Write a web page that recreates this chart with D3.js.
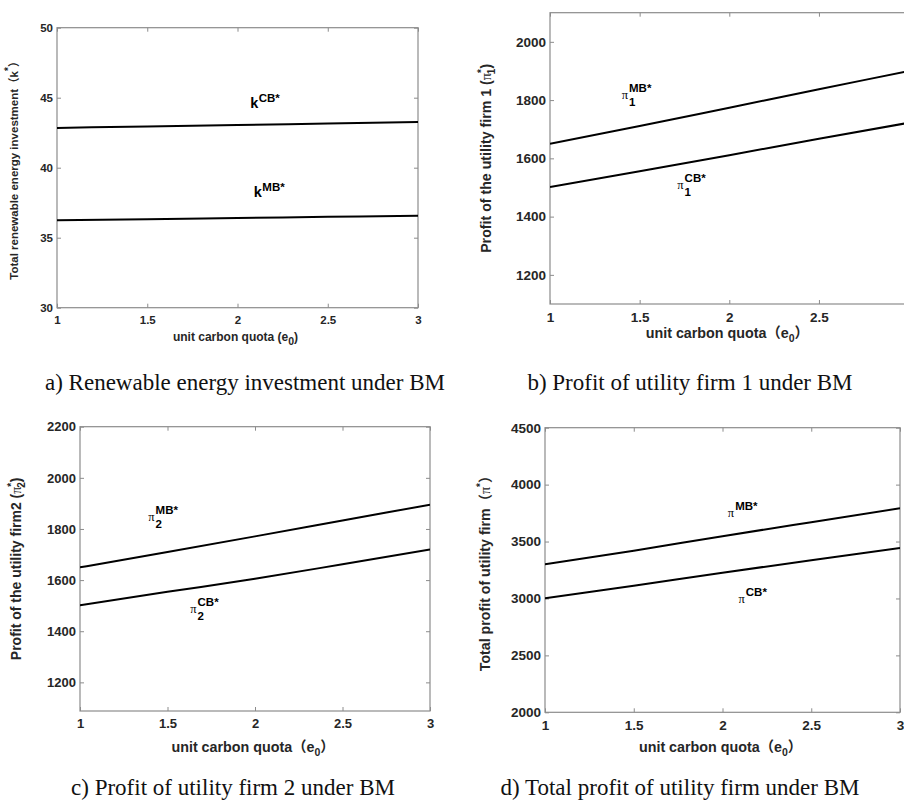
<!DOCTYPE html>
<html>
<head>
<meta charset="utf-8">
<script src="https://cdn.jsdelivr.net/npm/d3@7"></script>
<style>
  body { margin: 0; background: #fff; }
  svg { display: block; }
</style>
</head>
<body>
<div id="chart"></div>
<script>
// unit carbon quota e0
const quota = [1, 1.5, 2, 2.5, 3];

// a) renewable energy investment
const kCB = [42.84, 42.95, 43.05, 43.16, 43.27];
const kMB = [36.24, 36.32, 36.40, 36.49, 36.57];

// b) profit of utility firm 1
const pi1MB = [1650, 1711, 1774, 1837, 1900];
const pi1CB = [1502, 1556, 1611, 1667, 1722];

// c) profit of utility firm 2
const pi2MB = [1650, 1710, 1771, 1833, 1895];
const pi2CB = [1502, 1554, 1605, 1662, 1720];

// d) total profit
const piMB = [3300, 3420, 3547, 3670, 3792];
const piCB = [3001, 3112, 3226, 3336, 3443];

const xTicks = [1, 1.5, 2, 2.5, 3];

const width = 904, height = 800;
const sans = "'Liberation Sans', Arial, 'Noto Sans CJK SC', sans-serif";
const serif = "'Liberation Serif', 'Times New Roman', serif";

const svg = d3.select("#chart")
  .append("svg")
  .attr("width", width)
  .attr("height", height)
  .attr("viewBox", [0, 0, width, height]);

const panels = [
  {
    box: {left: 57, top: 27.7, right: 418, bottom: 307.7},
    yDomain: [30, 50], yTicks: [30, 35, 40, 45, 50],
    series: [kCB, kMB], fs: 11.5,
    yLabel: ["Total renewable energy investment（k", "*", "", "）"], yLabelX: 18, yLabelFs: 11.5,
    xLabel: ["unit carbon quota (e", "0", ")"], xLabelY: 341, xLabelFs: 12,
    caption: "a) Renewable energy investment under BM", capX: 245, capY: 390,
    notes: [
      {base: "k", sup: "CB*", sub: "", at: [2.07, 44.3]},
      {base: "k", sup: "MB*", sub: "", at: [2.09, 37.9]}
    ]
  },
  {
    box: {left: 550, top: 12.7, right: 908.6, bottom: 304},
    yDomain: [1100, 2100], yTicks: [1200, 1400, 1600, 1800, 2000],
    series: [pi1MB, pi1CB], fs: 13.5,
    yLabel: ["Profit of the utility firm 1 (", "*", "1", ")"], yLabelPi: true, yLabelX: 491, yLabelFs: 14.2,
    xLabel: ["unit carbon quota（e", "0", "）"], xLabelY: 338, xLabelFs: 14.3,
    caption: "b) Profit of utility firm 1 under BM", capX: 690, capY: 390,
    notes: [
      {base: "π", sup: "MB*", sub: "1", at: [1.40, 1804]},
      {base: "π", sup: "CB*", sub: "1", at: [1.71, 1495]}
    ]
  },
  {
    box: {left: 80, top: 426.7, right: 430, bottom: 711},
    yDomain: [1088, 2200], yTicks: [1200, 1400, 1600, 1800, 2000, 2200],
    series: [pi2MB, pi2CB], fs: 13,
    yLabel: ["Profit of the utility firm2 (", "*", "2", ")"], yLabelPi: true, yLabelX: 21, yLabelFs: 14,
    xLabel: ["unit carbon quota（e", "0", "）"], xLabelY: 752, xLabelFs: 14.3,
    caption: "c) Profit of utility firm 2 under BM", capX: 233, capY: 795,
    notes: [
      {base: "π", sup: "MB*", sub: "2", at: [1.39, 1830]},
      {base: "π", sup: "CB*", sub: "2", at: [1.63, 1470]}
    ]
  },
  {
    box: {left: 545, top: 427.7, right: 900, bottom: 712.3},
    yDomain: [2000, 4500], yTicks: [2000, 2500, 3000, 3500, 4000, 4500],
    series: [piMB, piCB], fs: 13.5,
    yLabel: ["Total profit of utility firm（", "*", "", "）"], yLabelPi: true, yLabelX: 490, yLabelFs: 14.2,
    xLabel: ["unit carbon quota（e", "0", "）"], xLabelY: 752, xLabelFs: 14.3,
    caption: "d) Total profit of utility firm under BM", capX: 680, capY: 795,
    notes: [
      {base: "π", sup: "MB*", sub: "", at: [2.03, 3713]},
      {base: "π", sup: "CB*", sub: "", at: [2.09, 2957]}
    ]
  }
];

panels.forEach((p, i) => {
  const b = p.box;
  const x = d3.scaleLinear().domain([1, 3]).range([b.left, b.right]);
  const y = d3.scaleLinear().domain(p.yDomain).range([b.bottom, b.top]);

  const g = svg.append("g");
  const clipId = "clip" + i;
  g.append("clipPath").attr("id", clipId)
    .append("rect")
    .attr("x", b.left).attr("y", b.top)
    .attr("width", b.right - b.left).attr("height", b.bottom - b.top);

  // ticks, inward on all four sides
  const tickLen = 4;
  const styleAxis = sel => {
    sel.select(".domain").remove();
    sel.selectAll("line").attr("stroke", "#8c8c8c");
    sel.selectAll("text")
      .attr("fill", "#262626")
      .style("font-family", sans)
      .style("font-size", p.fs + "px")
      .style("font-weight", "bold");
  };

  g.append("g")
    .attr("transform", `translate(0,${b.bottom})`)
    .call(d3.axisBottom(x).tickValues(xTicks).tickSize(-tickLen).tickPadding(8).tickFormat(d => String(d)))
    .call(styleAxis);
  g.append("g")
    .attr("transform", `translate(0,${b.top})`)
    .call(d3.axisTop(x).tickValues(xTicks).tickSize(-tickLen).tickFormat(""))
    .call(styleAxis);
  g.append("g")
    .attr("transform", `translate(${b.left},0)`)
    .call(d3.axisLeft(y).tickValues(p.yTicks).tickSize(-tickLen).tickPadding(4).tickFormat(d => String(d)))
    .call(styleAxis);
  g.append("g")
    .attr("transform", `translate(${b.right},0)`)
    .call(d3.axisRight(y).tickValues(p.yTicks).tickSize(-tickLen).tickFormat(""))
    .call(styleAxis);

  // box
  g.append("rect")
    .attr("x", b.left).attr("y", b.top)
    .attr("width", b.right - b.left).attr("height", b.bottom - b.top)
    .attr("fill", "none")
    .attr("stroke", "#8c8c8c")
    .attr("stroke-width", 1.2);

  // curves
  const line = d3.line()
    .x((d, j) => x(quota[j]))
    .y(d => y(d))
    .curve(d3.curveMonotoneX);

  g.append("g")
    .attr("clip-path", `url(#${clipId})`)
    .selectAll("path")
    .data(p.series)
    .join("path")
    .attr("d", line)
    .attr("fill", "none")
    .attr("stroke", "#000")
    .attr("stroke-width", 2);

  // curve annotations
  p.notes.forEach(n => {
    const px = x(n.at[0]), py = y(n.at[1]);
    const isPi = n.base === "π";
    const baseT = g.append("text")
      .attr("x", px).attr("y", py)
      .attr("fill", "#000")
      .style("font-family", isPi ? serif : sans)
      .style("font-weight", isPi ? "normal" : "bold")
      .style("font-size", isPi ? "12.5px" : "14.5px")
      .text(n.base);
    const w = baseT.node().getComputedTextLength();
    g.append("text")
      .attr("x", px + w + (isPi ? 1 : 0.5)).attr("y", py - (isPi ? 7 : 6))
      .attr("fill", "#000")
      .style("font-family", sans).style("font-weight", "bold").style("font-size", "11.5px")
      .text(n.sup);
    if (n.sub) {
      g.append("text")
        .attr("x", px + w + 1).attr("y", py + 7)
        .attr("fill", "#000")
        .style("font-family", sans).style("font-weight", "bold").style("font-size", "11.5px")
        .text(n.sub);
    }
  });

  // y label (rotated)
  const cy = (b.top + b.bottom) / 2;
  const yl = g.append("text")
    .attr("transform", `translate(${p.yLabelX},${cy}) rotate(-90)`)
    .attr("text-anchor", "middle")
    .attr("fill", "#262626")
    .style("font-family", sans)
    .style("font-weight", "bold")
    .style("font-size", p.yLabelFs + "px");
  yl.append("tspan").text(p.yLabel[0]);
  if (p.yLabelPi) {
    yl.append("tspan").style("font-family", serif).style("font-weight", "normal").text("π");
  }
  yl.append("tspan").attr("dy", -6).style("font-size", "10px").text(p.yLabel[1]);
  if (p.yLabel[2]) {
    yl.append("tspan").attr("dx", -5).attr("dy", 10).style("font-size", "10px").text(p.yLabel[2]);
    yl.append("tspan").attr("dy", -4).text(p.yLabel[3]);
  } else {
    yl.append("tspan").attr("dy", 6).text(p.yLabel[3]);
  }

  // x label
  const xl = g.append("text")
    .attr("x", (b.left + Math.min(b.right, 908.6)) / 2 - 2)
    .attr("y", p.xLabelY)
    .attr("text-anchor", "middle")
    .attr("fill", "#262626")
    .style("font-family", sans)
    .style("font-weight", "bold")
    .style("font-size", p.xLabelFs + "px");
  xl.append("tspan").text(p.xLabel[0]);
  xl.append("tspan").attr("dy", 4).style("font-size", "10.5px").text(p.xLabel[1]);
  xl.append("tspan").attr("dy", -4).text(p.xLabel[2]);

  // caption
  g.append("text")
    .attr("x", p.capX).attr("y", p.capY)
    .attr("text-anchor", "middle")
    .attr("fill", "#111")
    .style("font-family", serif)
    .style("font-size", "23px")
    .text(p.caption);
});
</script>
</body>
</html>
